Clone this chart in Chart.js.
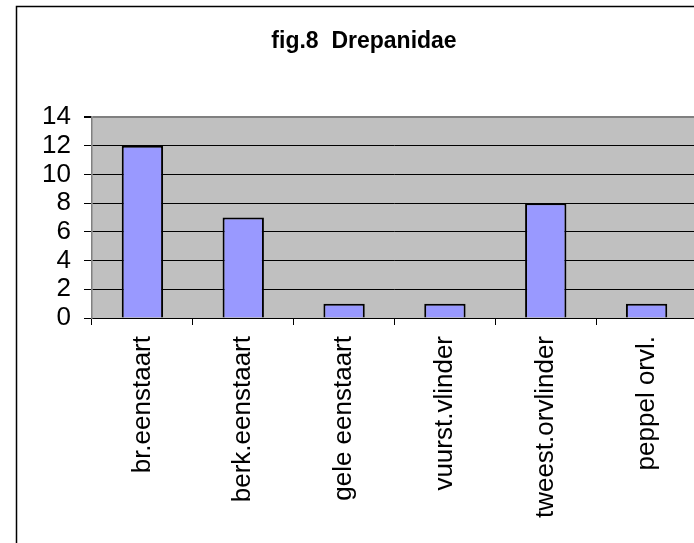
<!DOCTYPE html>
<html>
<head>
<meta charset="utf-8">
<script src="https://cdn.jsdelivr.net/npm/chart.js@4/dist/chart.umd.min.js"></script>
<style>
    html, body { margin: 0; padding: 0; background: #fff; overflow: hidden; }
    #wrap { width: 700px; height: 543px; position: relative; }
</style>
</head>
<body>
<div id="wrap"><canvas id="drepanidae"></canvas></div>
<script>
// data
const soorten = ['br.eenstaart', 'berk.eenstaart', 'gele eenstaart', 'vuurst.vlinder', 'tweest.orvlinder', 'peppel orvl.'];
const aantallen = [12, 7, 1, 1, 8, 1];
const yTicks = [0, 2, 4, 6, 8, 10, 12, 14];
const titel = 'fig.8  Drepanidae';

const fontFamily = "'Liberation Sans', Arial, sans-serif";

// grey plot area, outer frame and the title (the frame is wider than the window)
const achtergrond = {
    id: 'achtergrond',
    beforeDraw(chart) {
        const ctx = chart.ctx;
        const a = chart.chartArea;
        ctx.save();
        ctx.fillStyle = '#fff';
        ctx.fillRect(0, 0, chart.width, chart.height);
        ctx.fillStyle = '#C0C0C0';
        ctx.fillRect(a.left, a.top, a.right - a.left, a.bottom - a.top);
        ctx.strokeStyle = '#000';
        ctx.lineWidth = 1.5;
        ctx.strokeRect(16.5, 6.5, 1000, 1000);
        ctx.fillStyle = '#000';
        ctx.font = 'bold 23px ' + fontFamily;
        ctx.textAlign = 'center';
        ctx.textBaseline = 'alphabetic';
        ctx.fillText(titel, 364, 48);
        ctx.restore();
    }
};

let ctx = document.querySelector('#drepanidae').getContext('2d');
new Chart(ctx, {
    type: 'bar',
    data: {
        labels: soorten,
        datasets: [{
            data: aantallen,
            backgroundColor: '#9999FF',
            borderColor: '#000',
            borderWidth: 2,
            barPercentage: 0.41,
            categoryPercentage: 1
        }]
    },
    options: {
        responsive: true,
        maintainAspectRatio: false,
        animation: false,
        layout: { padding: { left: 0, right: 3, top: 117, bottom: 0 } },
        plugins: {
            legend: { display: false },
            tooltip: { enabled: false },
            title: { display: false }
        },
        scales: {
            x: {
                grid: {
                    offset: true,
                    drawOnChartArea: false,
                    color: '#000',
                    tickLength: 7
                },
                border: { color: '#000', width: 1 },
                ticks: {
                    color: '#000',
                    font: { family: fontFamily, size: 26 },
                    minRotation: 90,
                    maxRotation: 90,
                    autoSkip: false,
                    padding: 11
                },
                afterFit(scale) { scale.height = 225; }
            },
            y: {
                min: 0,
                max: 14,
                afterBuildTicks(scale) {
                    scale.ticks = yTicks.map(v => ({ value: v }));
                },
                grid: {
                    color: ctx => ctx.tick && ctx.tick.value === 14 ? '#808080' : '#000',
                    tickColor: '#000',
                    tickLength: 8,
                    lineWidth: ctx => ctx.tick && ctx.tick.value === 14 ? 2 : 1
                },
                border: { color: '#808080', width: 1.5 },
                ticks: {
                    color: '#000',
                    font: { family: fontFamily, size: 26 },
                    autoSkip: false,
                    padding: 13
                },
                afterFit(scale) { scale.width = 92; }
            }
        }
    },
    plugins: [achtergrond]
});
</script>
</body>
</html>
